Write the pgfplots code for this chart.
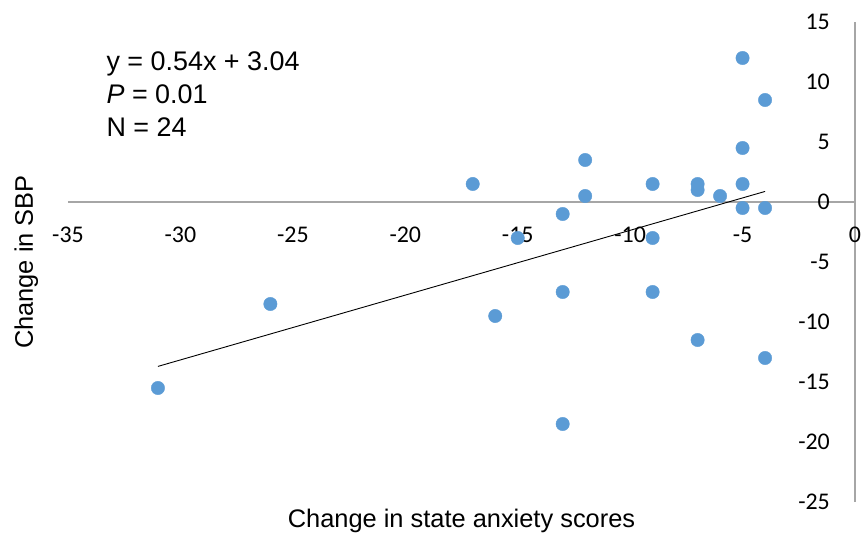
\documentclass[border=0pt]{standalone}
\usepackage{fontspec}
\setmainfont{Liberation Sans}
\newfontfamily\calibri{Carlito}
\usepackage{pgfplots}
\pgfplotsset{compat=1.18}
\definecolor{dotblue}{HTML}{5B9BD5}
\definecolor{axgray}{HTML}{A6A6A6}

\begin{document}
\begin{tikzpicture}
\begin{axis}[
  scale only axis, width=787bp, height=480bp,
  xmin=-35, xmax=0, ymin=-25, ymax=15,
  axis lines=middle,
  axis line style={-, draw=axgray, line width=1.1bp},
  xtick={-35,-30,...,0}, ytick={-25,-20,...,15},
  xticklabels={-35,-30,-25,-20,-15,-10,-5,0},
  yticklabels={-25,-20,-15,-10,-5,0,5,10,15},
  hide obscured x ticks=false, hide obscured y ticks=false,
  major tick length=0pt,
  ticklabel style={font=\calibri\fontsize{24}{28}\selectfont, inner sep=0pt},
  xticklabel style={anchor=north, yshift=-25bp},
  yticklabel style={anchor=east, xshift=-25bp},
  clip=false,
]
% change in anxiety score vs change in SBP
\addplot[only marks, mark=*, mark size=6.7bp,
  mark options={fill=dotblue, draw=dotblue}] table {
x y
-31 -15.5
-26 -8.5
-17 1.5
-16 -9.5
-15 -3
-13 -1
-13 -7.5
-13 -18.5
-12 3.5
-12 0.5
-9 1.5
-9 -3
-9 -7.5
-7 1.5
-7 1
-7 -11.5
-6 0.5
-5 12
-5 4.5
-5 1.5
-5 -0.5
-4 8.5
-4 -0.5
-4 -13
};
% linear trend y = 0.54x + 3.04
\addplot[black, line width=0.9bp] coordinates {(-31,-13.70) (-4,0.88)};

\node[anchor=base west, font=\fontsize{27}{27}\selectfont] at (axis cs:-33.44,10.92) {y = 0.54x + 3.04};
\node[anchor=base west, font=\fontsize{27}{27}\selectfont] at (axis cs:-33.44,8.17) {\textit{P} = 0.01};
\node[anchor=base west, font=\fontsize{27}{27}\selectfont] at (axis cs:-33.44,5.42) {N = 24};

\node[anchor=base, font=\fontsize{25.5}{25.5}\selectfont] at ([yshift=-25bp]rel axis cs:0.5,0) {Change in state anxiety scores};
\node[anchor=base, rotate=90, font=\fontsize{25.5}{25.5}\selectfont] at ([xshift=-35bp]rel axis cs:0,0.5) {Change in SBP};

\coordinate (sw) at (rel axis cs:0,0);
\coordinate (ne) at (rel axis cs:1,1);
\end{axis}
\pgfresetboundingbox
\path ([shift={(-68bp,-33bp)}]sw) rectangle ([shift={(7bp,22bp)}]ne);
\end{tikzpicture}
\end{document}
